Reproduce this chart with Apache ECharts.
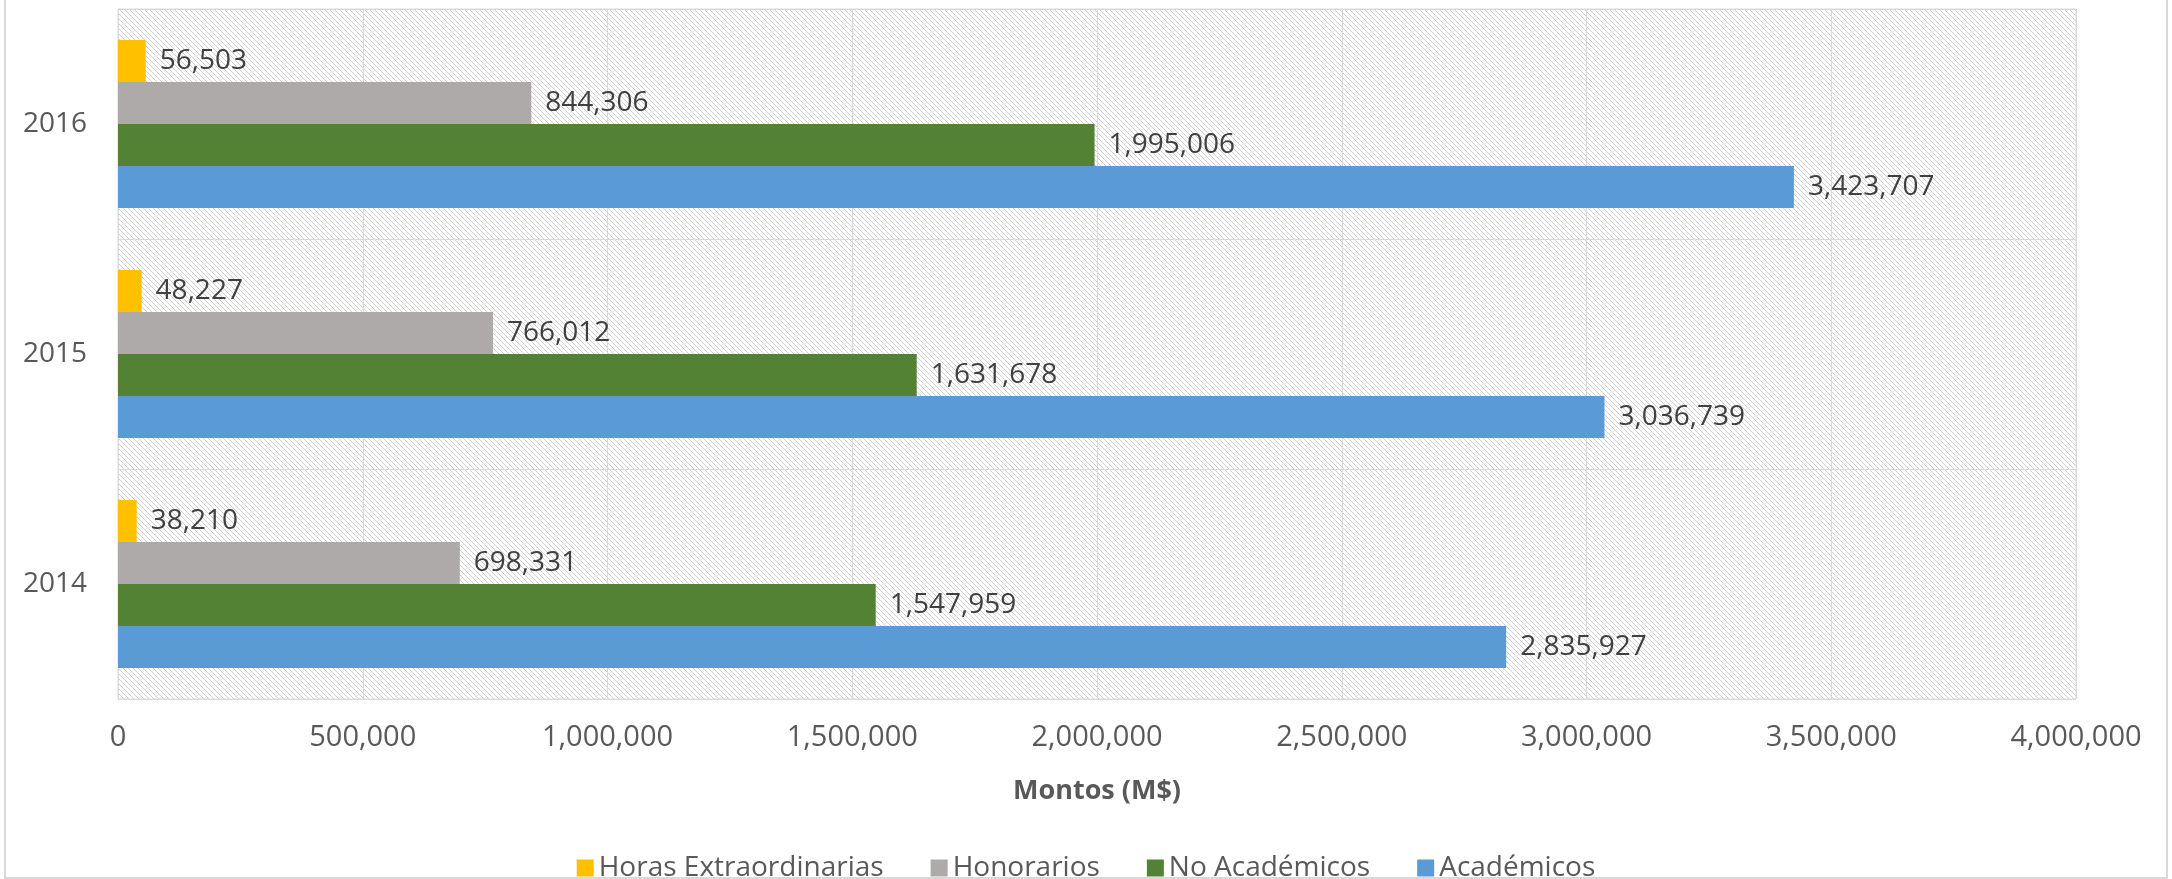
<!DOCTYPE html>
<html>
<head>
<meta charset="utf-8">
<script src="https://cdn.jsdelivr.net/npm/echarts@6/dist/echarts.min.js"></script>
<style>
html, body { margin: 0; padding: 0; background: #fff; }
#chart { width: 2172px; height: 879px; }
</style>
</head>
<body>
<div id="chart"></div>
<script>
// categories (bottom to top) and series values
const years = ['2014', '2015', '2016'];
const horasExtra = [38210, 48227, 56503];
const honorarios = [698331, 766012, 844306];
const noAcademicos = [1547959, 1631678, 1995006];
const academicos = [2835927, 3036739, 3423707];
const seriesNames = ['Horas Extraordinarias', 'Honorarios', 'No Académicos', 'Académicos'];
const seriesColors = ['#FFC000', '#AEAAAA', '#548235', '#5B9BD5'];

// hatched plot background, like the excel "light downward diagonal"
function hatch() {
    let n = 5;
    let c = document.createElement('canvas');
    c.width = n; c.height = n;
    let ctx = c.getContext('2d');
    ctx.fillStyle = '#ffffff';
    ctx.fillRect(0, 0, n, n);
    ctx.fillStyle = '#cfcfcf';
    for (let i = 0; i < n; i++) {
        ctx.fillRect(i, i, 1, 1);
    }
    return c;
}

const fmt = v => Number(v).toLocaleString('en-US');
const font = '"Open Sans", "Noto Sans", sans-serif';

let myChart = echarts.init(document.getElementById('chart'));

let dataSets = [horasExtra, honorarios, noAcademicos, academicos];
let series = dataSets.map((d, i) => {
    return {
        name: seriesNames[i],
        type: 'bar',
        data: d,
        barGap: '0%',
        barCategoryGap: '27%',
        itemStyle: { color: seriesColors[i] },
        label: {
            show: true,
            position: 'right',
            distance: 14,
            color: '#404040',
            fontSize: 28,
            fontFamily: font,
            formatter: p => fmt(p.value)
        }
    }
});

myChart.setOption({
    animation: false,
    textStyle: { fontFamily: font },
    graphic: [{
        type: 'rect',
        shape: { x: 5, y: -2, width: 2162, height: 880 },
        style: { fill: 'none', stroke: '#D9D9D9', lineWidth: 2 },
        silent: true
    }],
    grid: {
        left: 118,
        right: 96,
        top: 9,
        bottom: 180,
        show: true,
        borderColor: '#D9D9D9',
        borderWidth: 1,
        backgroundColor: { image: hatch(), repeat: 'repeat' }
    },
    legend: {
        data: seriesNames,
        left: 'center',
        top: 849,
        itemWidth: 17,
        itemHeight: 17,
        itemGap: 47,
        icon: 'rect',
        textStyle: { fontSize: 28, color: '#595959', fontFamily: font }
    },
    xAxis: {
        type: 'value',
        min: 0,
        max: 4000000,
        interval: 500000,
        name: 'Montos (M$)',
        nameLocation: 'middle',
        nameGap: 79,
        nameTextStyle: { fontSize: 27, fontWeight: 'bold', color: '#595959', fontFamily: font },
        axisLine: { show: false },
        axisTick: { show: false },
        axisLabel: { fontSize: 29, color: '#595959', margin: 24, formatter: v => fmt(v), fontFamily: font },
        splitLine: { lineStyle: { color: '#D9D9D9', width: 1 } }
    },
    yAxis: {
        type: 'category',
        data: years,
        axisLine: { show: true, lineStyle: { color: '#D9D9D9' } },
        axisTick: { show: false },
        axisLabel: { fontSize: 28, color: '#595959', margin: 31, fontFamily: font },
        splitLine: { show: true, lineStyle: { color: '#D9D9D9', width: 1 } }
    },
    series: series
});
</script>
</body>
</html>
